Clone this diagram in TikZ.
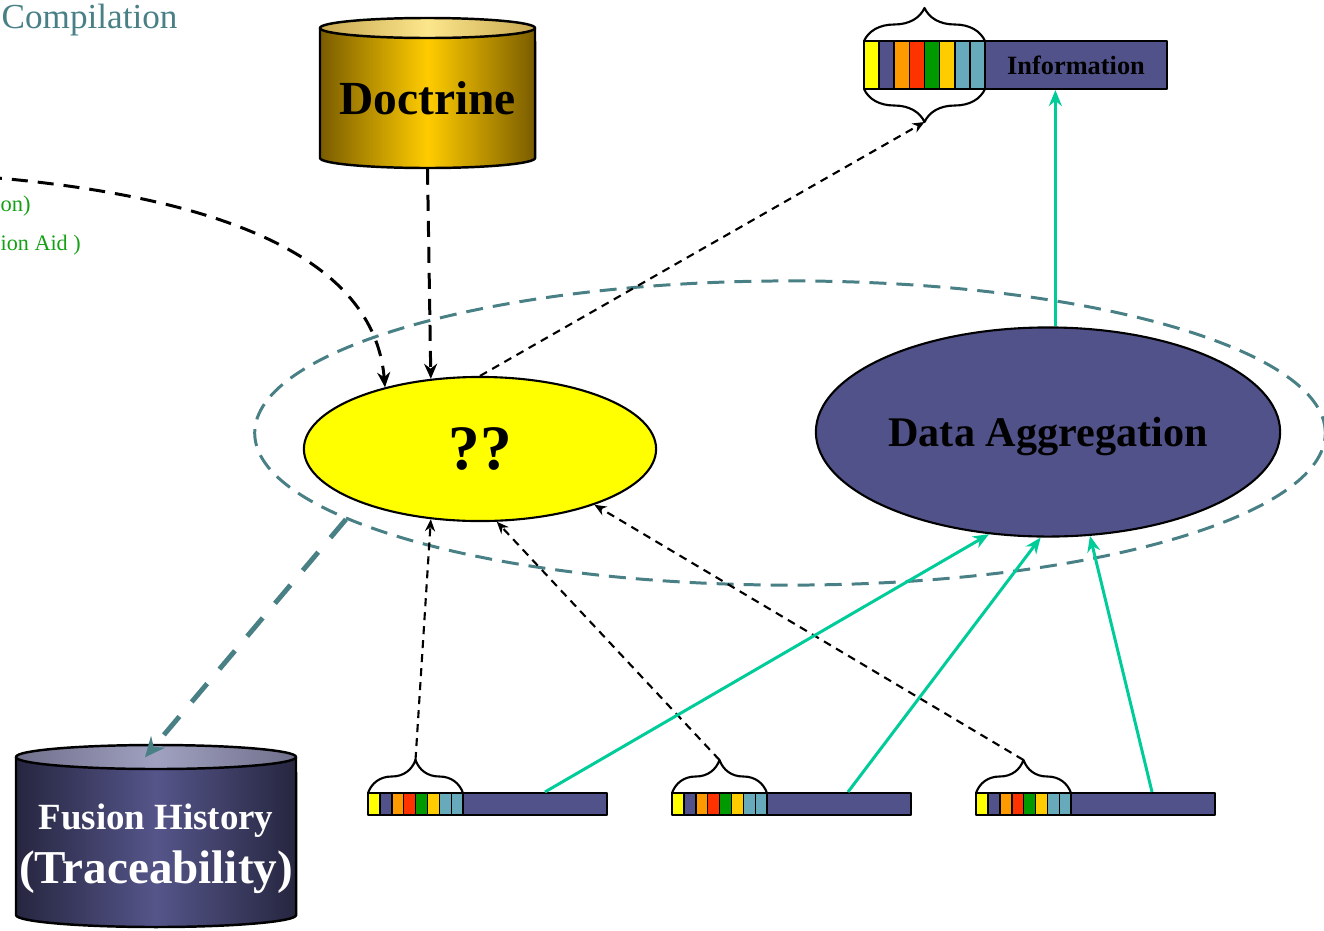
\documentclass[tikz,border=0pt]{standalone}
\usepackage{fontspec}
\setmainfont{Liberation Serif}
\usetikzlibrary{shapes.geometric,arrows.meta,decorations.pathreplacing}
\definecolor{slate}{RGB}{82,82,138}
\definecolor{mint}{RGB}{0,204,153}
\definecolor{tealgrey}{RGB}{72,128,134}
\definecolor{leafgreen}{RGB}{20,160,20}
\definecolor{cyel}{RGB}{255,255,0}
\definecolor{corange}{RGB}{255,153,0}
\definecolor{cred}{RGB}{255,51,0}
\definecolor{cgreen}{RGB}{0,153,0}
\definecolor{cgold}{RGB}{255,204,0}
\definecolor{ccadet}{RGB}{102,170,187}
\definecolor{golddark}{RGB}{122,92,0}
\definecolor{goldmid}{RGB}{255,204,0}
\definecolor{goldtopedge}{RGB}{200,168,80}
\definecolor{goldtopmid}{RGB}{252,230,140}
\definecolor{navydark}{RGB}{38,38,64}
\definecolor{navymid}{RGB}{85,85,138}
\definecolor{navytopedge}{RGB}{112,112,140}
\definecolor{navytopmid}{RGB}{160,160,192}
\begin{document}
\begin{tikzpicture}[x=0.01cm,y=-0.01cm,line join=round]
	\tikzstyle{cell}=[draw=black,line width=0.45pt]
	\tikzstyle{strip}=[draw=black,fill=slate,line width=0.6pt,inner sep=0pt]
	\tikzstyle{curly}=[draw=black,line width=0.6pt,decorate,decoration={brace,amplitude=0.33cm}]
	\tikzstyle{thin}=[line width=0.6pt,dash pattern=on 0.08cm off 0.06cm,-{Stealth[length=0.12cm,width=0.1cm]}]
	\tikzstyle{heavy}=[line width=0.85pt,dash pattern=on 0.16cm off 0.1cm,-{Stealth[length=0.15cm,width=0.13cm]}]
	\tikzstyle{feed}=[mint,line width=0.85pt,-{Stealth[length=0.16cm,width=0.13cm]}]
	\useasboundingbox (0,0) rectangle (1324,930);

	% cylinders
	\draw[line width=0.7pt,left color=golddark,right color=golddark,middle color=goldmid]
		(320,28) -- (320,158) arc[start angle=180,end angle=360,x radius=1.075cm,y radius=0.1cm] -- (535,28) -- cycle;
	\draw[line width=0.7pt,left color=goldtopedge,right color=goldtopedge,middle color=goldtopmid]
		(427.5,28) ellipse[x radius=1.075cm,y radius=0.1cm];
	\draw[line width=0.7pt,left color=navydark,right color=navydark,middle color=navymid]
		(16,757) -- (16,915) arc[start angle=180,end angle=360,x radius=1.4cm,y radius=0.12cm] -- (296,757) -- cycle;
	\draw[line width=0.7pt,left color=navytopedge,right color=navytopedge,middle color=navytopmid]
		(156,757) ellipse[x radius=1.4cm,y radius=0.12cm];

	\node[minimum width=2.15cm,minimum height=1.4cm,font=\fontsize{13.5}{16}\selectfont\bfseries] (doc) at (427.5,98) {Doctrine};
	\node[minimum width=2.8cm,minimum height=1.82cm,align=center,text=white,font=\fontsize{13.4}{15.4}\selectfont\bfseries] (hist) at (156,849)
		{{\fontsize{10.5}{15.4}\selectfont Fusion History}\\(Traceability)};

	% ellipses
	\node[ellipse,draw=tealgrey,line width=0.85pt,dash pattern=on 0.17cm off 0.1cm,minimum width=10.7cm,minimum height=3.04cm,inner sep=0pt] (grp) at (790,433) {};
	\node[ellipse,draw,fill=cyel,line width=0.6pt,minimum width=3.52cm,minimum height=1.44cm,inner sep=0pt,font=\fontsize{18}{20}\selectfont\bfseries] (qq) at (480,449) {??};
	\node[ellipse,draw,fill=slate,line width=0.6pt,minimum width=4.64cm,minimum height=2.09cm,inner sep=0pt,text depth=0pt,font=\fontsize{12}{14}\selectfont\bfseries] (da) at (1048,432) {Data Aggregation};

	% bars
	\node[strip,minimum width=1.82cm,minimum height=0.48cm,font=\fontsize{7.5}{9}\selectfont\bfseries] (info) at (1076,65) {Information};
	\foreach \c [count=\i from 0] in {cyel,slate,corange,cred,cgreen,cgold,ccadet,ccadet}
		\draw[cell,fill=\c] ({864+\i*15.125},41) rectangle +(15.125,48);
	\draw[curly] (864,41) -- (985,41);
	\draw[curly,decoration={mirror}] (864,89) -- (985,89);
	\coordinate (i0) at (924.5,122);

	\node[strip,minimum width=1.44cm,minimum height=0.22cm] (b1) at (535,804) {};
	\node[strip,minimum width=1.44cm,minimum height=0.22cm] (b2) at (839,804) {};
	\node[strip,minimum width=1.44cm,minimum height=0.22cm] (b3) at (1143,804) {};
	\foreach \x/\t in {368/t1,672/t2,976/t3} {
		\foreach \c [count=\i from 0] in {cyel,slate,corange,cred,cgreen,cgold,ccadet,ccadet}
			\draw[cell,fill=\c] ({\x+\i*11.9},793) rectangle +(11.9,22);
		\draw[curly] (\x,793) -- ({\x+95},793);
		\coordinate (\t) at ({\x+47.5},760);
	}

	% texts
	\node[anchor=base west,inner sep=0pt,text=tealgrey,font=\fontsize{10}{12}\selectfont] (comp) at (1,28) {Compilation};
	\node[anchor=base west,inner sep=0pt,text=leafgreen,font=\fontsize{6.4}{8}\selectfont] (g1) at (0,211) {on)};
	\node[anchor=base west,inner sep=0pt,text=leafgreen,font=\fontsize{6.3}{8}\selectfont] (g2) at (0,250) {ion Aid )};

	% connectors
	\coordinate (src) at (-40,175);
	\draw[heavy] (src) .. controls (250,195) and (375,270) .. (qq.147);
	\draw[heavy] (doc.south) -- (qq.125);
	\draw[thin] (qq.north) -- (i0);
	\draw[thin] (t1) -- (qq.235);
	\draw[thin] (t2) -- (qq.283);
	\draw[thin] (t3) -- (qq.334);
	\draw[feed] ([xshift=0.1cm]b1.north) -- (da.240);
	\draw[feed] ([xshift=0.09cm]b2.north) -- (da.266);
	\draw[feed] ([xshift=0.09cm]b3.north) -- (da.292);
	\draw[feed] (da.86) -- (da.86 |- info.south);
	\draw[tealgrey,line width=1.4pt,dash pattern=on 0.24cm off 0.19cm,-{Stealth[length=0.2cm,width=0.18cm]}] (grp.191) -- ([xshift=-0.11cm]hist.north);
\end{tikzpicture}
\end{document}
